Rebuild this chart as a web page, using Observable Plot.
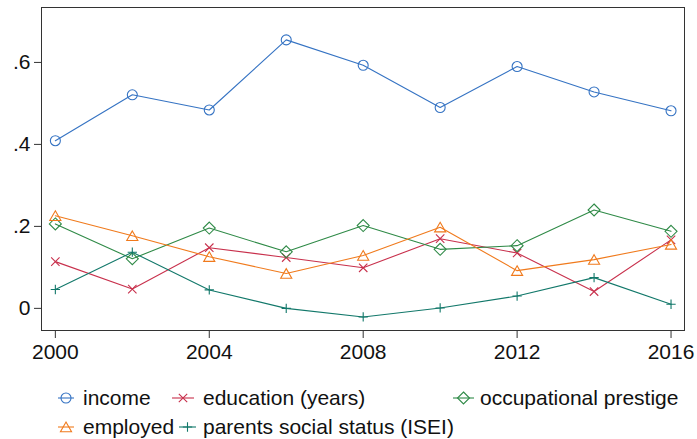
<!DOCTYPE html>
<html><head><meta charset="utf-8">
<script src="https://cdn.jsdelivr.net/npm/d3@7"></script>
<script src="https://cdn.jsdelivr.net/npm/@observablehq/plot@0.6"></script>
<style>
body{margin:0;background:#fff}
#wrap{position:relative;width:697px;height:439px}
#leg{position:absolute;left:0;top:0;pointer-events:none}
</style></head>
<body><div id="wrap"></div>
<script>
const years = [2000, 2002, 2004, 2006, 2008, 2010, 2012, 2014, 2016];
const income = [0.409, 0.521, 0.484, 0.655, 0.593, 0.490, 0.590, 0.528, 0.482];
const education = [0.114, 0.047, 0.148, 0.124, 0.099, 0.170, 0.135, 0.041, 0.167];
const prestige = [0.206, 0.121, 0.196, 0.138, 0.202, 0.144, 0.153, 0.240, 0.188];
const employed = [0.226, 0.177, 0.126, 0.085, 0.129, 0.198, 0.092, 0.119, 0.156];
const parents = [0.046, 0.137, 0.045, 0.000, -0.021, 0.001, 0.030, 0.075, 0.010];
const seriesNames = ["income", "education (years)", "occupational prestige", "employed", "parents social status (ISEI)"];
const xTicks = [2000, 2004, 2008, 2012, 2016];
const yTicks = [0, 0.2, 0.4, 0.6];

const seriesValues = [income, education, prestige, employed, parents];
const colors = ["#3573c3", "#c8304c", "#2f8a47", "#f07a1c", "#12786a"];
const symbols = ["circle", "times", "diamond2", "triangle2", "plus"];
const radii = [5, 3.9, 5.4, 5.3, 3.1];
const dys = [0, 0, 0, 1.5, 0];

const data = seriesNames.flatMap((s, i) => years.map((y, j) => ({series: s, year: y, value: seriesValues[i][j]})));

const font = '"Liberation Sans", Arial, sans-serif';

const marks = [
  Plot.frame({stroke: "#333", strokeWidth: 1}),
  Plot.axisX({ticks: xTicks, tickFormat: d => String(d), tickSize: 8, tickPadding: 6, stroke: "#333", label: null}),
  Plot.axisY({ticks: yTicks, tickFormat: d => d === 0 ? "0" : d3.format(".1f")(d).replace(/^0/, ""), tickSize: 7, tickPadding: 4, stroke: "#333", label: null}),
  Plot.line(data, {x: "year", y: "value", z: "series", stroke: "series", strokeWidth: 1.1})
];
seriesNames.forEach((s, i) => {
  marks.push(Plot.dot(data.filter(d => d.series === s), {
    x: "year", y: "value", symbol: () => symbols[i], stroke: colors[i], fill: "none", r: radii[i], dy: dys[i], strokeWidth: 1.1
  }));
});

const chart = Plot.plot({
  width: 697, height: 439,
  marginLeft: 41, marginRight: 13, marginTop: 7, marginBottom: 109,
  style: {fontSize: "21px", fontFamily: font, color: "#111", background: "#fff", overflow: "visible"},
  x: {domain: [1999.64, 2016.35]},
  y: {domain: [-0.054, 0.734]},
  color: {domain: seriesNames, range: colors},
  symbol: {type: "identity"},
  marks
});
document.getElementById("wrap").appendChild(chart);

// legend
const legendPos = [
  {x0: 58, x1: 74, tx: 83, y: 398},
  {x0: 172, x1: 194, tx: 203, y: 398},
  {x0: 453, x1: 474, tx: 480, y: 398},
  {x0: 58, x1: 74, tx: 83, y: 427},
  {x0: 179, x1: 196, tx: 203, y: 427}
];
const symMap = {circle: d3.symbolCircle, times: d3.symbolTimes, diamond2: d3.symbolDiamond2, triangle2: d3.symbolTriangle2, plus: d3.symbolPlus};
const leg = d3.select("#wrap").append("svg").attr("id", "leg").attr("width", 697).attr("height", 439);
seriesNames.forEach((s, i) => {
  const p = legendPos[i];
  const g = leg.append("g");
  g.append("line").attr("x1", p.x0).attr("x2", p.x1).attr("y1", p.y).attr("y2", p.y).attr("stroke", colors[i]).attr("stroke-width", 1.1);
  g.append("path").attr("d", d3.symbol(symMap[symbols[i]], Math.PI * radii[i] * radii[i])())
    .attr("transform", `translate(${(p.x0 + p.x1) / 2},${p.y + dys[i]})`)
    .attr("fill", "none").attr("stroke", colors[i]).attr("stroke-width", 1.1);
  g.append("text").attr("x", p.tx).attr("y", p.y).attr("dy", "0.35em")
    .attr("font-family", font).attr("font-size", 21).attr("fill", "#111").text(s);
});
</script></body></html>
